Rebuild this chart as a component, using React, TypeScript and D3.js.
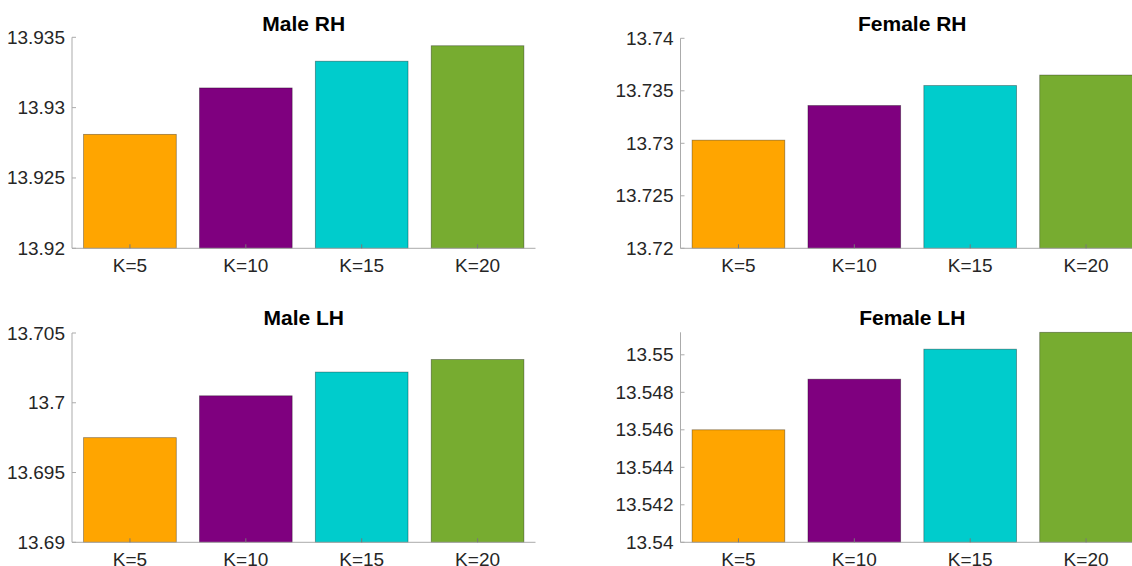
import React from "react";
import * as d3 from "d3";

// Categories and per-panel values
const categories = ["K=5", "K=10", "K=15", "K=20"];
const barColors = ["#FFA500", "#7F007F", "#00CCCC", "#77AC30"];

const maleRH = [13.9281, 13.9314, 13.9333, 13.9344];
const femaleRH = [13.7303, 13.7336, 13.7355, 13.7365];
const maleLH = [13.6975, 13.7005, 13.7022, 13.7031];
const femaleLH = [13.546, 13.5487, 13.5503, 13.5512];

const maleRHTicks = [13.92, 13.925, 13.93, 13.935];
const femaleRHTicks = [13.72, 13.725, 13.73, 13.735, 13.74];
const maleLHTicks = [13.69, 13.695, 13.7, 13.705];
const femaleLHTicks = [13.54, 13.542, 13.544, 13.546, 13.548, 13.55];

const maleRHDomain = [13.92, 13.935];
const femaleRHDomain = [13.72, 13.74];
const maleLHDomain = [13.69, 13.705];
const femaleLHDomain = [13.54, 13.5512];

const W = 1132;
const H = 566;

type PanelProps = {
  title: string;
  values: number[];
  ticks: number[];
  domain: number[];
  x0: number;
  x1: number;
  yTop: number;
  yBottom: number;
  titleY: number;
};

const fmt = (v: number) => String(+v.toFixed(4));

function Panel({ title, values, ticks, domain, x0, x1, yTop, yBottom, titleY }: PanelProps) {
  const x = d3.scaleBand<string>().domain(categories).range([x0, x1]).paddingInner(0.2).paddingOuter(0.1);
  const y = d3.scaleLinear().domain(domain).range([yBottom, yTop]);
  const axisColor = "#ababab";
  const textColor = "#262626";
  const font = "'Liberation Sans', Arial, Helvetica, sans-serif";
  return (
    <g>
      <text
        x={(x0 + x1) / 2}
        y={titleY}
        textAnchor="middle"
        dominantBaseline="central"
        fontFamily={font}
        fontWeight="bold"
        fontSize={21}
        fill="#000"
      >
        {title}
      </text>
      {categories.map((c, i) => (
        <rect
          key={c}
          x={x(c)}
          y={y(values[i])}
          width={x.bandwidth()}
          height={y(domain[0]) - y(values[i])}
          fill={barColors[i]}
          stroke="#000"
          strokeOpacity={0.4}
          strokeWidth={0.8}
        />
      ))}
      {/* axes */}
      <line x1={x0} x2={x0} y1={yTop} y2={yBottom} stroke={axisColor} strokeWidth={1} />
      <line x1={x0} x2={x1} y1={yBottom} y2={yBottom} stroke={axisColor} strokeWidth={1} />
      {ticks.map((t) => (
        <g key={t}>
          <line x1={x0} x2={x0 + 4} y1={y(t)} y2={y(t)} stroke={axisColor} strokeWidth={1} />
          <text
            x={x0 - 7}
            y={y(t)}
            textAnchor="end"
            dominantBaseline="central"
            fontFamily={font}
            fontSize={19}
            fill={textColor}
          >
            {fmt(t)}
          </text>
        </g>
      ))}
      {categories.map((c) => {
        const cx = (x(c) as number) + x.bandwidth() / 2;
        return (
          <g key={c}>
            <line x1={cx} x2={cx} y1={yBottom} y2={yBottom - 4} stroke="#777" strokeWidth={1} />
            <text
              x={cx}
              y={yBottom + 17.5}
              textAnchor="middle"
              dominantBaseline="central"
              fontFamily={font}
              fontSize={19}
              fill={textColor}
            >
              {c}
            </text>
          </g>
        );
      })}
    </g>
  );
}

export default function App() {
  return (
    <svg
      width={W}
      height={H}
      viewBox={`0 0 ${W} ${H}`}
      style={{ position: "absolute", left: 0, top: 0, background: "#fff" }}
    >
      <rect x={0} y={0} width={W} height={H} fill="#fff" />
      <Panel title="Male RH" values={maleRH} ticks={maleRHTicks} domain={maleRHDomain}
        x0={72} x1={535.5} yTop={37.3} yBottom={248.3} titleY={23.3} />
      <Panel title="Female RH" values={femaleRH} ticks={femaleRHTicks} domain={femaleRHDomain}
        x0={680.5} x1={1144} yTop={38.3} yBottom={248.3} titleY={23.3} />
      <Panel title="Male LH" values={maleLH} ticks={maleLHTicks} domain={maleLHDomain}
        x0={72} x1={535.5} yTop={333} yBottom={542.3} titleY={317.3} />
      <Panel title="Female LH" values={femaleLH} ticks={femaleLHTicks} domain={femaleLHDomain}
        x0={680.5} x1={1144} yTop={332.3} yBottom={542.3} titleY={317.3} />
    </svg>
  );
}
